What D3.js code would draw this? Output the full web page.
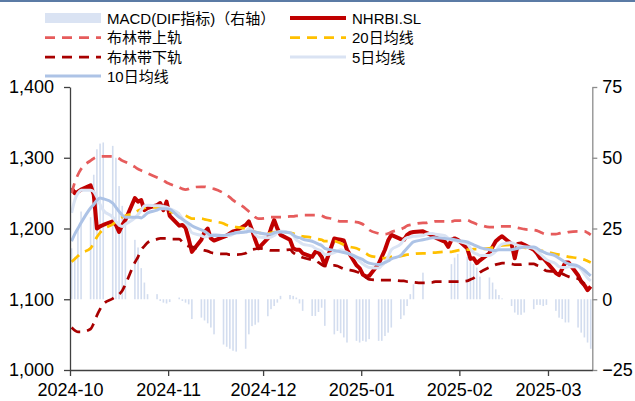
<!DOCTYPE html>
<html>
<head>
<meta charset="utf-8">
<script src="https://cdn.jsdelivr.net/npm/d3@7"></script>
<style>
  body { margin: 0; background: #fff; }
  svg { display: block; font-family: "Liberation Sans", Arial, "Noto Sans CJK SC", sans-serif; }
</style>
</head>
<body>
<div id="chart"></div>
<script>
// Trading Days (Weekdays) Shown on the Chart
const startDate = new Date(2024, 9, 1);
const endDate = new Date(2025, 2, 15);
const tradingDays = d3.timeDay.range(startDate, endDate)
  .filter(d => d.getDay() !== 0 && d.getDay() !== 6);

// Month Ticks
const monthTicks = d3.timeMonth.range(startDate, endDate);

// Series Names (Legend)
const seriesNames = ["MACD(DIF指标)（右轴）", "NHRBI.SL", "布林带上轨", "20日均线", "布林带下轨", "5日均线", "10日均线"];

// NHRBI.SL Close
const closeValues = [
  1257,1250,1252,1255,1261,1248,1200,1203,1205,1210,
  1205,1195,1205,1212,1243,1238,1240,1226,1229,1233,
  1236,1226,1238,1218,1204,1205,1201,1185,1167,1184,
  1195,1200,1186,1183,1188,1190,1193,1196,1197,1205,
  1210,1198,1184,1172,1186,1200,1212,1200,1191,1184,
  1172,1170,1170,1165,1160,1167,1166,1160,1148,1186,
  1185,1184,1183,1170,1148,1144,1135,1132,1133,1150,
  1160,1170,1183,1191,1185,1184,1191,1194,1195,1196,
  1194,1192,1190,1187,1181,1174,1184,1186,1184,1172,
  1157,1158,1151,1155,1165,1174,1182,1186,1189,1178,
  1158,1178,1179,1177,1170,1165,1158,1158,1153,1137,
  1134,1143,1152,1152,1134,1125,1120,1113,1118
];

// 5 Day Moving Average
const ma5Values = [
  1222,1240,1250,1254,1254,1252,1244,1234,1226,1216,
  1210,1205,1203,1206,1215,1220,1226,1232,1233,1232,
  1232,1231,1230,1228,1220,1214,1208,1202,1194,1190,
  1188,1189,1190,1192,1190,1190,1190,1192,1194,1196,
  1200,1198,1192,1188,1187,1188,1190,1194,1196,1194,
  1190,1184,1181,1178,1175,1172,1170,1168,1163,1166,
  1168,1170,1168,1166,1158,1154,1150,1147,1145,1144,
  1148,1152,1160,1170,1178,1184,1187,1188,1189,1190,
  1192,1193,1193,1192,1190,1186,1184,1183,1182,1178,
  1172,1166,1164,1162,1162,1164,1168,1174,1178,1180,
  1178,1176,1175,1174,1172,1168,1164,1160,1156,1150,
  1146,1145,1145,1146,1146,1142,1136,1130,1126
];

// 10 Day Moving Average
const ma10Values = [
  1182,1192,1200,1208,1229,1234,1240,1243,1242,1236,
  1230,1224,1219,1216,1216,1216,1215,1218,1222,1226,
  1228,1228,1228,1227,1216,1213,1210,1207,1204,1198,
  1196,1193,1190,1190,1190,1191,1192,1193,1194,1195,
  1196,1196,1195,1194,1192,1192,1194,1195,1195,1194,
  1191,1188,1187,1185,1182,1180,1178,1176,1172,1169,
  1168,1167,1166,1165,1160,1158,1156,1153,1151,1149,
  1150,1152,1154,1157,1162,1167,1172,1177,1181,1184,
  1185,1186,1187,1187,1186,1185,1185,1184,1183,1181,
  1179,1177,1175,1173,1170,1169,1169,1170,1170,1170,
  1171,1172,1173,1174,1174,1172,1169,1167,1165,1161,
  1158,1155,1152,1150,1147,1144,1141,1137,1133
];

// 20 Day Moving Average
const ma20Values = [
  1153,1157,1161,1165,1172,1180,1188,1194,1199,1206,
  1210,1213,1216,1218,1222,1225,1227,1229,1230,1230,
  1229,1228,1226,1224,1221,1219,1218,1216,1214,1214,
  1213,1212,1211,1210,1207,1205,1204,1203,1202,1200,
  1199,1197,1195,1194,1193,1194,1195,1195,1195,1194,
  1193,1191,1190,1189,1187,1186,1185,1184,1182,1182,
  1181,1179,1177,1175,1172,1170,1168,1165,1162,1159,
  1158,1158,1159,1160,1161,1162,1163,1163,1164,1165,
  1165,1166,1166,1166,1167,1167,1167,1168,1169,1170,
  1170,1171,1171,1171,1172,1173,1174,1175,1176,1177,
  1175,1174,1174,1173,1172,1171,1169,1168,1167,1164,
  1163,1162,1161,1160,1158,1157,1156,1154,1152
];

// Bollinger Upper Band
const upperValues = [
  1250,1265,1276,1284,1296,1299,1301,1302,1302,1302,
  1301,1299,1296,1294,1287,1284,1282,1280,1278,1272,
  1270,1268,1265,1263,1258,1256,1255,1256,1258,1259,
  1259,1258,1257,1256,1250,1247,1244,1240,1237,1228,
  1224,1220,1216,1214,1215,1216,1216,1216,1216,1217,
  1217,1218,1218,1219,1219,1219,1219,1218,1216,1213,
  1211,1210,1210,1210,1209,1208,1206,1202,1198,1193,
  1192,1192,1193,1195,1199,1201,1204,1205,1206,1208,
  1208,1209,1209,1210,1210,1210,1210,1211,1211,1212,
  1210,1208,1206,1205,1202,1202,1202,1203,1203,1203,
  1202,1201,1200,1199,1198,1197,1195,1193,1192,1192,
  1193,1194,1194,1195,1196,1196,1196,1194,1191
];

// Bollinger Lower Band
const lowerValues = [
  1060,1056,1054,1054,1058,1066,1077,1086,1093,1101,
  1104,1107,1112,1121,1152,1160,1170,1175,1180,1185,
  1186,1186,1186,1185,1185,1181,1177,1175,1174,1170,
  1169,1168,1166,1165,1164,1164,1163,1163,1163,1165,
  1168,1170,1171,1172,1170,1169,1169,1169,1169,1170,
  1166,1163,1161,1159,1156,1155,1152,1149,1147,1148,
  1147,1145,1143,1142,1139,1137,1135,1131,1128,1127,
  1127,1127,1127,1127,1126,1126,1125,1125,1124,1123,
  1123,1124,1124,1125,1125,1125,1125,1125,1125,1126,
  1128,1130,1134,1138,1145,1147,1149,1150,1151,1150,
  1149,1149,1149,1150,1150,1148,1146,1143,1140,1139,
  1138,1136,1134,1132,1129,1126,1122,1118,1115
];

// MACD DIF (Right Axis)
const macdValues = [
  18,15,25,31,29,44,53,55,55.4,54.2,
  50,40,33,28,21,18.3,11,5.9,1.8,1.8,
  -0.6,-1.2,-1.5,-1,0.6,-0.6,-1.2,-1.8,-7,-6.5,
  -7.5,-8.5,-10,-12.4,-16,-16.8,-17.5,-18.2,-18.5,-17.5,
  -12.4,-9.5,-9,-8.2,-6,-3.5,-2.4,-1.2,1.2,1.5,
  1.2,0.6,-1.5,-4.1,-5.9,-5.9,-4.5,-3,-9.4,-12.4,
  -11.2,-12,-13.5,-15.3,-14.7,-15.3,-14.7,-15,-14.1,-14.7,
  -14.7,-13,-11.8,-10,-7,-5.7,-2.4,1.8,5.3,9.4,
  0,0,0,0,0,0,12.4,14.7,16,15,
  13.5,12.5,11.2,8,7.7,5.9,3.5,1.5,0.3,-2.4,
  -4.7,-5.5,-5.5,-4.7,-3.5,-2,-2,-2.4,-2,-4.1,
  -6.5,-7,-8.2,-8.2,-10,-11.8,-13.5,-15.3,-17.5
];

// Axis Tick Values
const leftTicks = [1000, 1100, 1200, 1300, 1400];
const rightTicks = [-25, 0, 25, 50, 75];

// Define the Size of the SVG Container
const width = 635;
const height = 401;
const plot = { left: 70, right: 592.3, top: 87, bottom: 370 };

// Create the SVG Container
const svg = d3.select("#chart")
  .append("svg")
  .attr("width", width)
  .attr("height", height);

// Top Border
svg.append("rect")
  .attr("x", 0).attr("y", 0)
  .attr("width", width).attr("height", 2)
  .attr("fill", "#5b7ba5");

// Define X and Y Scales
const xScale = d3.scaleTime()
  .domain([startDate, endDate])
  .range([plot.left, plot.right]);

// Points Sit in the Middle of Each Day
const xPos = d => xScale(d3.timeHour.offset(d, 12));

const yLeft = d3.scaleLinear()
  .domain([1000, 1400])
  .range([plot.bottom, plot.top]);

const yRight = d3.scaleLinear()
  .domain([-25, 75])
  .range([plot.bottom, plot.top]);

// Add MACD Bars
svg.append("g")
  .selectAll("rect")
  .data(macdValues)
  .enter()
  .append("rect")
  .attr("x", (d, i) => xPos(tradingDays[i]) - 0.8)
  .attr("y", d => yRight(Math.max(0, d)))
  .attr("width", 1.6)
  .attr("height", d => Math.abs(yRight(d) - yRight(0)))
  .attr("fill", "#d3ddef");

// Line Series Styles
const lineSeries = [
  { values: closeValues, color: "#c00000", width: 4, dash: null, curve: d3.curveLinear },
  { values: upperValues, color: "#e65c5c", width: 2.75, dash: "10,7", curve: d3.curveMonotoneX },
  { values: ma20Values, color: "#ffc000", width: 2.75, dash: "10,7", curve: d3.curveMonotoneX },
  { values: lowerValues, color: "#a80000", width: 2.75, dash: "10,7", curve: d3.curveMonotoneX },
  { values: ma5Values, color: "#dae3f3", width: 3, dash: null, curve: d3.curveMonotoneX },
  { values: ma10Values, color: "#adc3e6", width: 3, dash: null, curve: d3.curveMonotoneX }
];

// Add Lines to SVG Container
lineSeries.forEach(s => {
  const line = d3.line()
    .x((d, i) => xPos(tradingDays[i]))
    .y(d => yLeft(d))
    .curve(s.curve);

  svg.append("path")
    .datum(s.values)
    .attr("d", line)
    .attr("fill", "none")
    .attr("stroke", s.color)
    .attr("stroke-width", s.width)
    .attr("stroke-dasharray", s.dash)
    .attr("stroke-linejoin", "round");
});

// Left Axis
const leftAxis = svg.append("g")
  .attr("transform", "translate(" + plot.left + ",0)")
  .call(d3.axisLeft(yLeft)
    .tickValues(leftTicks)
    .tickFormat(d3.format(","))
    .tickSize(6)
    .tickSizeOuter(0)
    .tickPadding(10));

// Right Axis
const rightAxis = svg.append("g")
  .attr("transform", "translate(" + plot.right + ",0)")
  .call(d3.axisRight(yRight)
    .tickValues(rightTicks)
    .tickSize(5)
    .tickSizeOuter(0)
    .tickPadding(5));

// Bottom Axis
const bottomAxis = svg.append("g")
  .attr("transform", "translate(0," + plot.bottom + ")")
  .call(d3.axisBottom(xScale)
    .tickValues(monthTicks)
    .tickFormat(d3.timeFormat("%Y-%m"))
    .tickSize(6)
    .tickSizeOuter(0)
    .tickPadding(7));

// Style the Axes
[leftAxis, bottomAxis].forEach(a => {
  a.selectAll("path, line").attr("stroke", "#404040").attr("stroke-width", 1.3);
});
rightAxis.selectAll("path, line").attr("stroke", "#8c8c8c").attr("stroke-width", 1.3);
svg.selectAll(".tick text")
  .attr("font-size", 18)
  .attr("font-family", "'Liberation Sans', Arial, sans-serif")
  .attr("fill", "#000");

// Legend
const legendItems = [
  { name: seriesNames[0], x: 45, y: 18, type: "rect", color: "#dae3f3" },
  { name: seriesNames[1], x: 290, y: 18, type: "line", color: "#c00000", width: 4, dash: null },
  { name: seriesNames[2], x: 45, y: 37.5, type: "line", color: "#e65c5c", width: 2.75, dash: "10,7" },
  { name: seriesNames[3], x: 290, y: 37.5, type: "line", color: "#ffc000", width: 2.75, dash: "10,7" },
  { name: seriesNames[4], x: 45, y: 57, type: "line", color: "#a80000", width: 2.75, dash: "10,7" },
  { name: seriesNames[5], x: 290, y: 57, type: "line", color: "#dae3f3", width: 3, dash: null },
  { name: seriesNames[6], x: 45, y: 76, type: "line", color: "#adc3e6", width: 3, dash: null }
];

const legend = svg.append("g");

legendItems.forEach(item => {
  if (item.type === "rect") {
    legend.append("rect")
      .attr("x", item.x).attr("y", item.y - 5)
      .attr("width", 56).attr("height", 10)
      .attr("fill", item.color);
  } else {
    legend.append("line")
      .attr("x1", item.x).attr("x2", item.x + 56)
      .attr("y1", item.y).attr("y2", item.y)
      .attr("stroke", item.color)
      .attr("stroke-width", item.width)
      .attr("stroke-dasharray", item.dash);
  }
  legend.append("text")
    .attr("x", item.x + 62)
    .attr("y", item.y + 5.5)
    .attr("font-size", 15)
    .attr("fill", "#000")
    .text(item.name);
});
</script>
</body>
</html>
